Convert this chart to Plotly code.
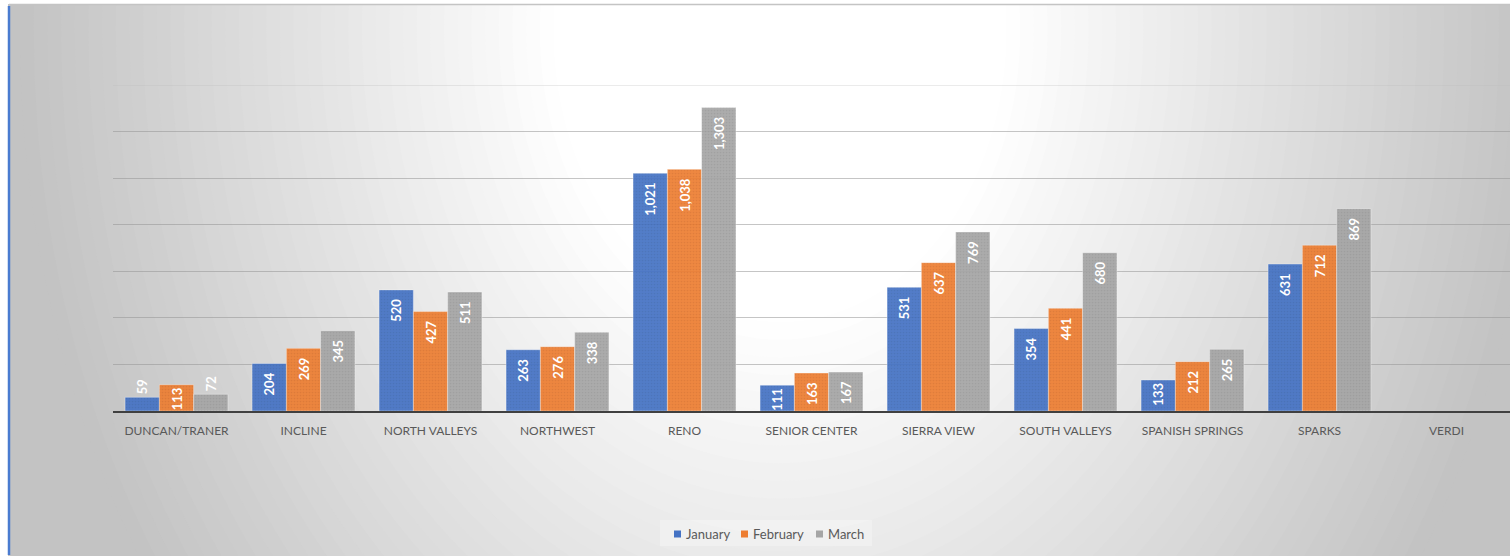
import plotly.graph_objects as go

categories = ["DUNCAN/TRANER", "INCLINE", "NORTH VALLEYS", "NORTHWEST", "RENO",
              "SENIOR CENTER", "SIERRA VIEW", "SOUTH VALLEYS", "SPANISH SPRINGS",
              "SPARKS", "VERDI"]
january = [59, 204, 520, 263, 1021, 111, 531, 354, 133, 631, None]
february = [113, 269, 427, 276, 1038, 163, 637, 441, 212, 712, None]
march = [72, 345, 511, 338, 1303, 167, 769, 680, 265, 869, None]
y_max = 1400
y_step = 200

series = [("January", january, "#4472C4", "#3a62a8"),
          ("February", february, "#ED7D31", "#cf6a27"),
          ("March", march, "#A5A5A5", "#8f8f8f")]

W, H = 1510, 556
ML, MR, MT, MB = 113, 0, 85, 145
PW, PH = W - ML - MR, H - MT - MB


def px(x):
    return (x - ML) / PW


def py(y):
    return (H - MB - y) / PH


NB = "\u00a0"
fig = go.Figure()
for name, vals, col, fg in series:
    pos, tmpl = [], []
    for v in vals:
        if v is None or v >= 150:
            pos.append("inside")
            tmpl.append("%{y:,}" + NB + NB)
        elif v >= 100:
            pos.append("inside")
            tmpl.append("%{y:,}")
        else:
            pos.append("outside")
            tmpl.append("%{y:,}")
    fig.add_trace(go.Bar(
        name=name, x=categories, y=vals,
        marker=dict(color=col, opacity=0.92,
                    line=dict(color="rgba(255,255,255,0.6)", width=0.6),
                    pattern=dict(shape=".", size=3, solidity=0.25,
                                 fgcolor=fg, bgcolor=col, fgopacity=0.5)),
        texttemplate=tmpl, textposition=pos, insidetextanchor="end",
        textangle=-90, constraintext="none", cliponaxis=False,
        textfont=dict(color="white", size=13, family="Lato", weight="bold"),
        hoverinfo="skip", showlegend=False,
    ))

shapes = []
annotations = []
# radial gradient background
cx, cy, rx, ry = 780, 30, 760, 980
shapes.append(dict(type="circle", xref="paper", yref="paper", layer="below",
                   x0=px(cx - rx * 2), x1=px(cx + rx * 2),
                   y0=py(cy + ry * 2), y1=py(cy - ry * 2),
                   fillcolor="rgb(195,195,195)", line=dict(width=0)))
n = 40
for i in range(n + 1):
    t = 1.0 - i * (0.72 / n)
    f = max(0.0, min(1.0, (t - 0.3) / 0.7))
    c = int(round(255 - 60 * f))
    shapes.append(dict(type="circle", xref="paper", yref="paper", layer="below",
                       x0=px(cx - rx * t), x1=px(cx + rx * t),
                       y0=py(cy + ry * t), y1=py(cy - ry * t),
                       fillcolor=f"rgb({c},{c},{c})", line=dict(width=0)))
# white page margins and frame
shapes.append(dict(type="rect", xref="paper", yref="paper", layer="below",
                   x0=px(-5), x1=px(W + 5), y0=py(4), y1=py(-5),
                   fillcolor="white", line=dict(width=0)))
shapes.append(dict(type="rect", xref="paper", yref="paper", layer="below",
                   x0=px(-5), x1=px(8), y0=py(H + 5), y1=py(-5),
                   fillcolor="white", line=dict(width=0)))
shapes.append(dict(type="line", xref="paper", yref="paper", layer="below",
                   x0=px(9), x1=px(W), y0=py(4.5), y1=py(4.5),
                   line=dict(color="#c4c4c4", width=1.5)))
shapes.append(dict(type="line", xref="paper", yref="paper", layer="below",
                   x0=px(9), x1=px(9), y0=py(6), y1=py(555),
                   line=dict(color="#4a7bd0", width=2.5)))
# top gridline at the axis maximum (lighter, as in the original)
shapes.append(dict(type="line", xref="paper", yref="y", layer="below",
                   x0=0, x1=1, y0=y_max, y1=y_max,
                   line=dict(color="rgba(190,190,190,0.6)", width=1)))

# legend box
shapes.append(dict(type="rect", xref="paper", yref="paper", layer="below",
                   x0=px(660), x1=px(872), y0=py(546), y1=py(520),
                   fillcolor="rgba(255,255,255,0.28)", line=dict(width=0)))
legend_x = [674, 741, 816]
for (name, vals, col, fg), lx in zip(series, legend_x):
    shapes.append(dict(type="rect", xref="paper", yref="paper", layer="below",
                       x0=px(lx), x1=px(lx + 7), y0=py(537.5), y1=py(530.5),
                       fillcolor=col, line=dict(width=0)))
    annotations.append(dict(xref="paper", yref="paper", x=px(lx + 10), y=py(534),
                            xanchor="left", yanchor="middle", showarrow=False,
                            text=name, font=dict(family="Lato", size=13, color="#595959")))

fig.update_layout(
    width=W, height=H,
    margin=dict(l=ML, r=MR, t=MT, b=MB),
    paper_bgcolor="white", plot_bgcolor="rgba(0,0,0,0)",
    barmode="group", bargap=0.19, bargroupgap=0,
    shapes=shapes, annotations=annotations,
    font=dict(family="Lato", color="#595959", size=12),
    showlegend=False,
    xaxis=dict(showline=True, linecolor="#404040", linewidth=2, ticks="",
               tickfont=dict(size=12, color="#595959"), showgrid=False,
               ticklabelstandoff=8, fixedrange=True),
    yaxis=dict(range=[0, y_max], dtick=y_step, showticklabels=False,
               gridcolor="rgba(150,150,150,0.55)", gridwidth=1,
               zeroline=False, showline=False, fixedrange=True),
)

fig.write_html("out.html", config={"displayModeBar": False},
               post_script="document.body.style.margin='0px';")
